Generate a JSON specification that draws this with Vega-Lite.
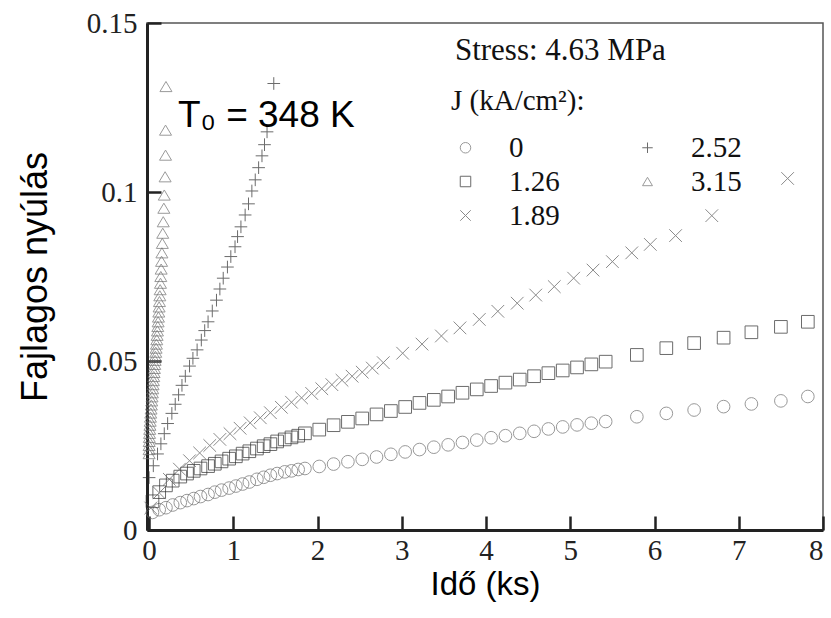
{
  "$schema": "https://vega.github.io/schema/vega-lite/v6.json",
  "width": 676,
  "height": 507,
  "autosize": {"type": "none"},
  "padding": {"left": 147, "top": 23, "right": 8, "bottom": 88},
  "background": "white",
  "config": {
    "view": {"stroke": "#555555", "strokeWidth": 1.5},
    "axis": {
      "grid": false,
      "domainColor": "#222222",
      "domainWidth": 3,
      "tickColor": "#222222",
      "tickWidth": 2.5,
      "tickSize": -14,
      "labelFont": "Liberation Serif",
      "labelFontSize": 29,
      "labelColor": "#222222",
      "titleFont": "Liberation Sans",
      "titleFontWeight": "normal",
      "titleColor": "#000000"
    }
  },
  "encoding": {
    "x": {
      "field": "t",
      "type": "quantitative",
      "scale": {"domain": [-0.025, 8], "nice": false, "zero": false},
      "axis": {
        "values": [0, 1, 2, 3, 4, 5, 6, 7, 8],
        "format": "d",
        "title": "Idő (ks)",
        "titleFontSize": 33,
        "titleBaseline": "alphabetic",
        "titleY": 64,
        "labelPadding": 20
      }
    },
    "y": {
      "field": "e",
      "type": "quantitative",
      "scale": {"domain": [0, 0.15], "nice": false, "zero": false},
      "axis": {
        "values": [0, 0.05, 0.1, 0.15],
        "format": ".2~f",
        "title": "Fajlagos nyúlás",
        "titleFontSize": 36,
        "titleBaseline": "alphabetic",
        "titleX": -101,
        "labelPadding": 24
      }
    }
  },
  "layer": [
    {
      "data": {
        "values": [
          {"J": "0", "t": 0.04, "e": 0.0052}, {"J": "0", "t": 0.12, "e": 0.0060}, {"J": "0", "t": 0.20, "e": 0.0066},
          {"J": "0", "t": 0.28, "e": 0.0074}, {"J": "0", "t": 0.37, "e": 0.0081}, {"J": "0", "t": 0.45, "e": 0.0087},
          {"J": "0", "t": 0.53, "e": 0.0093}, {"J": "0", "t": 0.61, "e": 0.0099}, {"J": "0", "t": 0.70, "e": 0.0105},
          {"J": "0", "t": 0.78, "e": 0.0112}, {"J": "0", "t": 0.86, "e": 0.0118}, {"J": "0", "t": 0.95, "e": 0.0124},
          {"J": "0", "t": 1.03, "e": 0.0130}, {"J": "0", "t": 1.11, "e": 0.0136}, {"J": "0", "t": 1.19, "e": 0.0142},
          {"J": "0", "t": 1.28, "e": 0.0150}, {"J": "0", "t": 1.36, "e": 0.0156}, {"J": "0", "t": 1.44, "e": 0.0162},
          {"J": "0", "t": 1.52, "e": 0.0167}, {"J": "0", "t": 1.61, "e": 0.0172}, {"J": "0", "t": 1.69, "e": 0.0175},
          {"J": "0", "t": 1.77, "e": 0.0179}, {"J": "0", "t": 1.85, "e": 0.0182}, {"J": "0", "t": 2.02, "e": 0.0188},
          {"J": "0", "t": 2.19, "e": 0.0195}, {"J": "0", "t": 2.36, "e": 0.0202}, {"J": "0", "t": 2.53, "e": 0.0209},
          {"J": "0", "t": 2.70, "e": 0.0216}, {"J": "0", "t": 2.87, "e": 0.0224}, {"J": "0", "t": 3.04, "e": 0.0231},
          {"J": "0", "t": 3.21, "e": 0.0238}, {"J": "0", "t": 3.38, "e": 0.0245}, {"J": "0", "t": 3.55, "e": 0.0252},
          {"J": "0", "t": 3.72, "e": 0.0259}, {"J": "0", "t": 3.89, "e": 0.0266}, {"J": "0", "t": 4.06, "e": 0.0273},
          {"J": "0", "t": 4.23, "e": 0.0279}, {"J": "0", "t": 4.40, "e": 0.0286}, {"J": "0", "t": 4.57, "e": 0.0292},
          {"J": "0", "t": 4.74, "e": 0.0299}, {"J": "0", "t": 4.91, "e": 0.0305}, {"J": "0", "t": 5.08, "e": 0.0311},
          {"J": "0", "t": 5.25, "e": 0.0316}, {"J": "0", "t": 5.42, "e": 0.0321}, {"J": "0", "t": 5.79, "e": 0.0335},
          {"J": "0", "t": 6.14, "e": 0.0345}, {"J": "0", "t": 6.47, "e": 0.0355}, {"J": "0", "t": 6.82, "e": 0.0365},
          {"J": "0", "t": 7.15, "e": 0.0373}, {"J": "0", "t": 7.50, "e": 0.0382}, {"J": "0", "t": 7.82, "e": 0.0395},

          {"J": "1.26", "t": 0.04, "e": 0.0085}, {"J": "1.26", "t": 0.12, "e": 0.0112}, {"J": "1.26", "t": 0.20, "e": 0.0132},
          {"J": "1.26", "t": 0.28, "e": 0.0146}, {"J": "1.26", "t": 0.37, "e": 0.0158}, {"J": "1.26", "t": 0.45, "e": 0.0167},
          {"J": "1.26", "t": 0.53, "e": 0.0175}, {"J": "1.26", "t": 0.61, "e": 0.0182}, {"J": "1.26", "t": 0.70, "e": 0.0189},
          {"J": "1.26", "t": 0.78, "e": 0.0196}, {"J": "1.26", "t": 0.86, "e": 0.0203}, {"J": "1.26", "t": 0.95, "e": 0.0211},
          {"J": "1.26", "t": 1.03, "e": 0.0218}, {"J": "1.26", "t": 1.11, "e": 0.0226}, {"J": "1.26", "t": 1.19, "e": 0.0233},
          {"J": "1.26", "t": 1.28, "e": 0.0241}, {"J": "1.26", "t": 1.36, "e": 0.0248}, {"J": "1.26", "t": 1.44, "e": 0.0254},
          {"J": "1.26", "t": 1.52, "e": 0.0262}, {"J": "1.26", "t": 1.61, "e": 0.0268}, {"J": "1.26", "t": 1.69, "e": 0.0274},
          {"J": "1.26", "t": 1.77, "e": 0.0279}, {"J": "1.26", "t": 1.85, "e": 0.0286}, {"J": "1.26", "t": 2.02, "e": 0.0297},
          {"J": "1.26", "t": 2.19, "e": 0.0310}, {"J": "1.26", "t": 2.36, "e": 0.0320}, {"J": "1.26", "t": 2.53, "e": 0.0330},
          {"J": "1.26", "t": 2.70, "e": 0.0342}, {"J": "1.26", "t": 2.87, "e": 0.0352}, {"J": "1.26", "t": 3.04, "e": 0.0364},
          {"J": "1.26", "t": 3.21, "e": 0.0376}, {"J": "1.26", "t": 3.38, "e": 0.0385}, {"J": "1.26", "t": 3.55, "e": 0.0395},
          {"J": "1.26", "t": 3.72, "e": 0.0406}, {"J": "1.26", "t": 3.89, "e": 0.0416}, {"J": "1.26", "t": 4.06, "e": 0.0426},
          {"J": "1.26", "t": 4.23, "e": 0.0436}, {"J": "1.26", "t": 4.40, "e": 0.0445}, {"J": "1.26", "t": 4.57, "e": 0.0455},
          {"J": "1.26", "t": 4.74, "e": 0.0464}, {"J": "1.26", "t": 4.91, "e": 0.0472}, {"J": "1.26", "t": 5.08, "e": 0.0481},
          {"J": "1.26", "t": 5.25, "e": 0.0490}, {"J": "1.26", "t": 5.42, "e": 0.0498}, {"J": "1.26", "t": 5.79, "e": 0.0518},
          {"J": "1.26", "t": 6.14, "e": 0.0538}, {"J": "1.26", "t": 6.47, "e": 0.0553}, {"J": "1.26", "t": 6.82, "e": 0.0569},
          {"J": "1.26", "t": 7.15, "e": 0.0585}, {"J": "1.26", "t": 7.50, "e": 0.0601}, {"J": "1.26", "t": 7.82, "e": 0.0616},

          {"J": "1.89", "t": 0.02, "e": 0.0065}, {"J": "1.89", "t": 0.12, "e": 0.0110}, {"J": "1.89", "t": 0.24, "e": 0.0150},
          {"J": "1.89", "t": 0.36, "e": 0.0180}, {"J": "1.89", "t": 0.48, "e": 0.0205}, {"J": "1.89", "t": 0.60, "e": 0.0228},
          {"J": "1.89", "t": 0.72, "e": 0.0250}, {"J": "1.89", "t": 0.84, "e": 0.0268}, {"J": "1.89", "t": 0.96, "e": 0.0285},
          {"J": "1.89", "t": 1.08, "e": 0.0301}, {"J": "1.89", "t": 1.20, "e": 0.0317}, {"J": "1.89", "t": 1.32, "e": 0.0332},
          {"J": "1.89", "t": 1.44, "e": 0.0347}, {"J": "1.89", "t": 1.57, "e": 0.0363}, {"J": "1.89", "t": 1.69, "e": 0.0378},
          {"J": "1.89", "t": 1.81, "e": 0.0391}, {"J": "1.89", "t": 1.93, "e": 0.0404}, {"J": "1.89", "t": 2.05, "e": 0.0418},
          {"J": "1.89", "t": 2.17, "e": 0.0430}, {"J": "1.89", "t": 2.29, "e": 0.0443}, {"J": "1.89", "t": 2.41, "e": 0.0455},
          {"J": "1.89", "t": 2.53, "e": 0.0467}, {"J": "1.89", "t": 2.65, "e": 0.0479}, {"J": "1.89", "t": 2.78, "e": 0.0495},
          {"J": "1.89", "t": 3.01, "e": 0.0523}, {"J": "1.89", "t": 3.24, "e": 0.0550}, {"J": "1.89", "t": 3.47, "e": 0.0574},
          {"J": "1.89", "t": 3.69, "e": 0.0598}, {"J": "1.89", "t": 3.92, "e": 0.0623}, {"J": "1.89", "t": 4.14, "e": 0.0647},
          {"J": "1.89", "t": 4.37, "e": 0.0671}, {"J": "1.89", "t": 4.59, "e": 0.0695}, {"J": "1.89", "t": 4.81, "e": 0.0720},
          {"J": "1.89", "t": 5.04, "e": 0.0745}, {"J": "1.89", "t": 5.27, "e": 0.0769}, {"J": "1.89", "t": 5.50, "e": 0.0794},
          {"J": "1.89", "t": 5.73, "e": 0.0820}, {"J": "1.89", "t": 5.95, "e": 0.0845}, {"J": "1.89", "t": 6.25, "e": 0.0871},
          {"J": "1.89", "t": 6.68, "e": 0.0930}, {"J": "1.89", "t": 7.58, "e": 0.1040},

          {"J": "2.52", "t": 0.00, "e": 0.0155}, {"J": "2.52", "t": 0.05, "e": 0.0190}, {"J": "2.52", "t": 0.10, "e": 0.0225},
          {"J": "2.52", "t": 0.14, "e": 0.0255}, {"J": "2.52", "t": 0.18, "e": 0.0285}, {"J": "2.52", "t": 0.22, "e": 0.0315},
          {"J": "2.52", "t": 0.27, "e": 0.0345}, {"J": "2.52", "t": 0.31, "e": 0.0372}, {"J": "2.52", "t": 0.35, "e": 0.0400},
          {"J": "2.52", "t": 0.39, "e": 0.0428}, {"J": "2.52", "t": 0.43, "e": 0.0455}, {"J": "2.52", "t": 0.48, "e": 0.0485},
          {"J": "2.52", "t": 0.52, "e": 0.0508}, {"J": "2.52", "t": 0.57, "e": 0.0533}, {"J": "2.52", "t": 0.62, "e": 0.0562},
          {"J": "2.52", "t": 0.66, "e": 0.0590}, {"J": "2.52", "t": 0.70, "e": 0.0616}, {"J": "2.52", "t": 0.75, "e": 0.0648},
          {"J": "2.52", "t": 0.80, "e": 0.0680}, {"J": "2.52", "t": 0.84, "e": 0.0713}, {"J": "2.52", "t": 0.88, "e": 0.0745},
          {"J": "2.52", "t": 0.93, "e": 0.0778}, {"J": "2.52", "t": 0.97, "e": 0.0809}, {"J": "2.52", "t": 1.02, "e": 0.0838},
          {"J": "2.52", "t": 1.05, "e": 0.0868}, {"J": "2.52", "t": 1.09, "e": 0.0897}, {"J": "2.52", "t": 1.14, "e": 0.0932},
          {"J": "2.52", "t": 1.18, "e": 0.0965}, {"J": "2.52", "t": 1.22, "e": 0.1003}, {"J": "2.52", "t": 1.26, "e": 0.1036},
          {"J": "2.52", "t": 1.30, "e": 0.1072}, {"J": "2.52", "t": 1.34, "e": 0.1107}, {"J": "2.52", "t": 1.37, "e": 0.1140},
          {"J": "2.52", "t": 1.40, "e": 0.1178}, {"J": "2.52", "t": 1.48, "e": 0.1321},

          {"J": "3.15", "t": 0.200, "e": 0.1312}, {"J": "3.15", "t": 0.195, "e": 0.1183}, {"J": "3.15", "t": 0.195, "e": 0.1109},
          {"J": "3.15", "t": 0.190, "e": 0.1045}, {"J": "3.15", "t": 0.180, "e": 0.0991}, {"J": "3.15", "t": 0.175, "e": 0.0952},
          {"J": "3.15", "t": 0.168, "e": 0.0912}, {"J": "3.15", "t": 0.162, "e": 0.0878}, {"J": "3.15", "t": 0.157, "e": 0.0848},
          {"J": "3.15", "t": 0.152, "e": 0.0820}, {"J": "3.15", "t": 0.148, "e": 0.0795}, {"J": "3.15", "t": 0.143, "e": 0.0772},
          {"J": "3.15", "t": 0.139, "e": 0.0750}, {"J": "3.15", "t": 0.135, "e": 0.0730}, {"J": "3.15", "t": 0.131, "e": 0.0711},
          {"J": "3.15", "t": 0.127, "e": 0.0693}, {"J": "3.15", "t": 0.123, "e": 0.0676}, {"J": "3.15", "t": 0.119, "e": 0.0660},
          {"J": "3.15", "t": 0.115, "e": 0.0645}, {"J": "3.15", "t": 0.111, "e": 0.0630}, {"J": "3.15", "t": 0.107, "e": 0.0616},
          {"J": "3.15", "t": 0.103, "e": 0.0602}, {"J": "3.15", "t": 0.099, "e": 0.0589}, {"J": "3.15", "t": 0.095, "e": 0.0576},
          {"J": "3.15", "t": 0.091, "e": 0.0563}, {"J": "3.15", "t": 0.087, "e": 0.0550}, {"J": "3.15", "t": 0.083, "e": 0.0538},
          {"J": "3.15", "t": 0.079, "e": 0.0526}, {"J": "3.15", "t": 0.075, "e": 0.0514}, {"J": "3.15", "t": 0.071, "e": 0.0502},
          {"J": "3.15", "t": 0.067, "e": 0.0490}, {"J": "3.15", "t": 0.063, "e": 0.0478}, {"J": "3.15", "t": 0.059, "e": 0.0466},
          {"J": "3.15", "t": 0.055, "e": 0.0454}, {"J": "3.15", "t": 0.051, "e": 0.0442}, {"J": "3.15", "t": 0.047, "e": 0.0430},
          {"J": "3.15", "t": 0.043, "e": 0.0418}, {"J": "3.15", "t": 0.039, "e": 0.0406}, {"J": "3.15", "t": 0.035, "e": 0.0394},
          {"J": "3.15", "t": 0.031, "e": 0.0382}, {"J": "3.15", "t": 0.027, "e": 0.0370}, {"J": "3.15", "t": 0.023, "e": 0.0358},
          {"J": "3.15", "t": 0.019, "e": 0.0346}, {"J": "3.15", "t": 0.016, "e": 0.0334}, {"J": "3.15", "t": 0.013, "e": 0.0322},
          {"J": "3.15", "t": 0.010, "e": 0.0310}, {"J": "3.15", "t": 0.007, "e": 0.0298}, {"J": "3.15", "t": 0.005, "e": 0.0286},
          {"J": "3.15", "t": 0.003, "e": 0.0274}, {"J": "3.15", "t": 0.001, "e": 0.0262}, {"J": "3.15", "t": 0.000, "e": 0.0250},
          {"J": "3.15", "t": 0.000, "e": 0.0238}, {"J": "3.15", "t": 0.000, "e": 0.0226}
        ]
      },
      "mark": {"type": "point", "filled": false, "strokeWidth": 1, "size": 160, "clip": false},
      "encoding": {
        "shape": {
          "field": "J",
          "type": "nominal",
          "scale": {
            "domain": ["0", "1.26", "1.89", "2.52", "3.15"],
            "range": ["circle", "square", "M-1,-1L1,1M-1,1L1,-1", "M-1,0L1,0M0,-1L0,1", "M0,-0.8L0.95,0.8L-0.95,0.8Z"]
          },
          "legend": {
            "title": "J (kA/cm²):",
            "orient": "none",
            "legendX": 304,
            "legendY": 64,
            "direction": "vertical",
            "columns": 2,
            "padding": 0,
            "titleFont": "Liberation Serif",
            "titleFontSize": 29,
            "titleFontWeight": "normal",
            "titleColor": "#111111",
            "titlePadding": 17,
            "labelFont": "Liberation Serif",
            "labelFontSize": 29,
            "labelColor": "#111111",
            "labelOffset": 29,
            "symbolSize": 110,
            "symbolStrokeWidth": 1,
            "symbolStrokeColor": "#444444",
            "symbolFillColor": "transparent",
            "rowPadding": 4,
            "columnPadding": 73
          }
        },
        "stroke": {
          "field": "J",
          "type": "nominal",
          "scale": {
            "domain": ["0", "1.26", "1.89", "2.52", "3.15"],
            "range": ["#6e6e6e", "#2e2e2e", "#5a5a5a", "#2e2e2e", "#707070"]
          },
          "legend": null
        }
      }
    },
    {
      "data": {"values": [{"t": 0.342, "e": 0.1193, "label": "T₀ = 348 K"}]},
      "mark": {"type": "text", "align": "left", "baseline": "alphabetic", "font": "Liberation Sans", "fontSize": 37, "color": "#000000"},
      "encoding": {"text": {"field": "label", "type": "nominal"}}
    },
    {
      "data": {"values": [{"t": 3.63, "e": 0.1392, "label": "Stress: 4.63 MPa"}]},
      "mark": {"type": "text", "align": "left", "baseline": "alphabetic", "font": "Liberation Serif", "fontSize": 31, "color": "#111111"},
      "encoding": {"text": {"field": "label", "type": "nominal"}}
    }
  ]
}
